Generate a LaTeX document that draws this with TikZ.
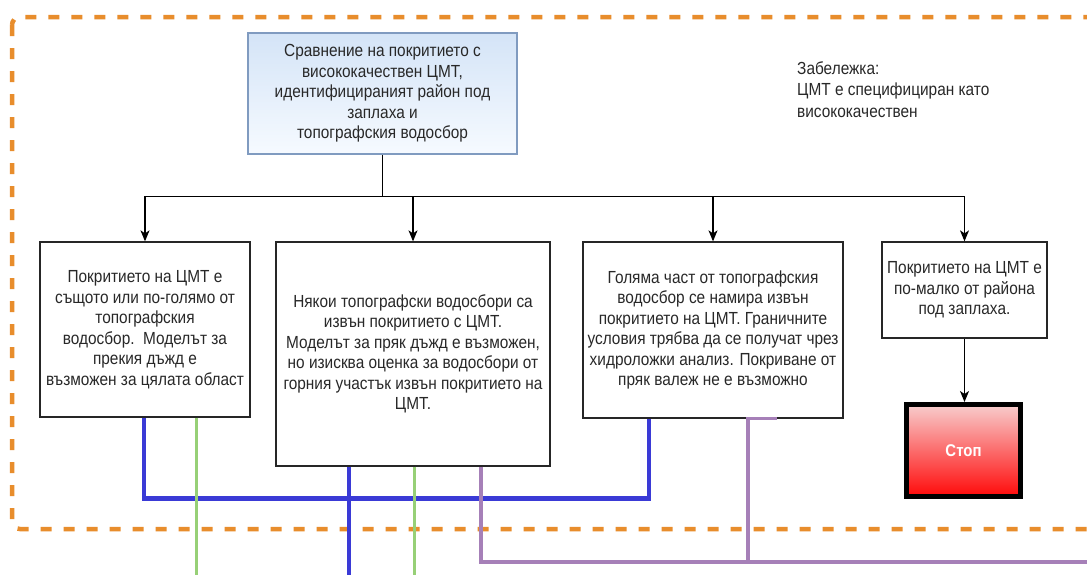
\documentclass[tikz,border=0pt]{standalone}
\usepackage{fontspec}
\setmainfont{Liberation Sans}
\newfontfamily\narrowsans[FakeStretch=0.88]{Liberation Sans}
\usetikzlibrary{arrows.meta,calc}

\definecolor{frameorange}{RGB}{232,141,44}
\definecolor{linkblue}{RGB}{58,58,214}
\definecolor{linkgreen}{RGB}{151,208,119}
\definecolor{linkpurple}{RGB}{166,128,184}
\definecolor{headfilltop}{RGB}{212,228,247}
\definecolor{headfillbot}{RGB}{246,250,255}
\definecolor{headdraw}{RGB}{128,155,192}
\definecolor{stoptop}{RGB}{248,205,205}
\definecolor{stopbot}{RGB}{255,10,10}
\definecolor{inkgray}{RGB}{40,40,40}

\newcommand\diagfont{\narrowsans\fontsize{17.5}{20.5}\selectfont}

\begin{document}
\begin{tikzpicture}[x=1pt,y=-1pt,
  stepbox/.style={draw=black!85, line width=1.3pt, fill=white, align=center,
    inner sep=0pt, font=\diagfont, text=inkgray},
  headbox/.style={draw=headdraw, line width=1.3pt, top color=headfilltop,
    bottom color=headfillbot, align=center, inner sep=0pt, font=\diagfont,
    text=inkgray},
  stopbox/.style={draw=black, line width=5pt, top color=stoptop,
    bottom color=stopbot, inner sep=0pt, text=white,
    font=\narrowsans\fontsize{17}{18}\selectfont\bfseries},
  arr/.style={draw=black, line width=1.2pt,
    -{Stealth[length=11pt,width=9pt,inset=3pt]}},
  trunk/.style={draw=black, line width=1.2pt},
  bluelink/.style={draw=linkblue, line width=4.5pt},
  greenlink/.style={draw=linkgreen, line width=3pt},
  purplelink/.style={draw=linkpurple, line width=3.2pt},
  frame/.style={draw=frameorange, line width=4.5pt, rounded corners=8pt,
    dash pattern=on 11pt off 12pt},
  note/.style={align=left, inner sep=0pt, anchor=north west,
    font=\narrowsans\fontsize{17.5}{21.5}\selectfont, text=inkgray}
]
\useasboundingbox (0,0) rectangle (1087,574);
\clip (0,0) rectangle (1087,574);
\fill[white] (0,0) rectangle (1087,574);

% dashed orange region outline
\draw[frame] (12,17) rectangle (1120,529);

% boxes
\node[headbox, minimum width=269pt, minimum height=121pt] (top) at (382.5,93.5)
  {Сравнение на покритието с\\висококачествен ЦМТ,\\идентифицираният район под\\заплаха и\\топографския водосбор};

\node[stepbox, minimum width=210pt, minimum height=175pt] (b1) at (145,329.5)
  {Покритието на ЦМТ е\\същото или по-голямо от\\топографския\\водосбор.\ \ Моделът за\\прекия дъжд е\\възможен за цялата област};

\node[stepbox, minimum width=274pt, minimum height=224pt] (b2) at (413,354)
  {Някои топографски водосбори са\\извън покритието с ЦМТ.\\Моделът за пряк дъжд е възможен,\\но изисква оценка за водосбори от\\горния участък извън покритието на\\ЦМТ.};

\node[stepbox, minimum width=260pt, minimum height=176pt] (b3) at (713,330)
  {Голяма част от топографския\\водосбор се намира извън\\покритието на ЦМТ. Граничните\\условия трябва да се получат чрез\\хидроложки анализ. Покриване от\\пряк валеж не е възможно};

\node[stepbox, minimum width=165pt, minimum height=96pt] (b4) at (964.5,290)
  {Покритието на ЦМТ е\\по-малко от района\\под заплаха.};

\node[stopbox, minimum width=114pt, minimum height=92pt] (stop) at (963.5,450.5) {Стоп};

\node[note] (remark) at (797,61)
  {Забележка:\\ЦМТ е специфициран като\\висококачествен};

% branching connectors
\draw[trunk] (top.south) -- ++(0,42) coordinate (split);
\draw[arr] (split) -| (b1.north);
\draw[arr] (split) -| (b2.north);
\draw[arr] (split) -| (b3.north);
\draw[arr] (split) -| (b4.north);
\draw[arr] (b4.south) -- (b4.south |- stop.north);

% outgoing coloured links
\coordinate (blueout) at (349,580);
\coordinate (greenoutA) at (196,580);
\coordinate (greenoutB) at (414,580);
\coordinate (purpleout) at (1100,562);

\draw[bluelink] ([xshift=-1pt]b1.south) -- ++(0,81) -| ([xshift=-64pt]b3.south);
\draw[bluelink] ([xshift=-64pt]b2.south) -- (blueout);
\draw[greenlink] ([xshift=51pt]b1.south) -- (greenoutA);
\draw[greenlink] ([xshift=1pt]b2.south) -- (greenoutB);
\draw[purplelink] ([xshift=68pt]b2.south) |- (purpleout);
\draw[purplelink] ([xshift=64pt]b3.south) -- ([xshift=35pt]b3.south) -- ([xshift=35pt]b3.south |- purpleout);
\end{tikzpicture}
\end{document}
